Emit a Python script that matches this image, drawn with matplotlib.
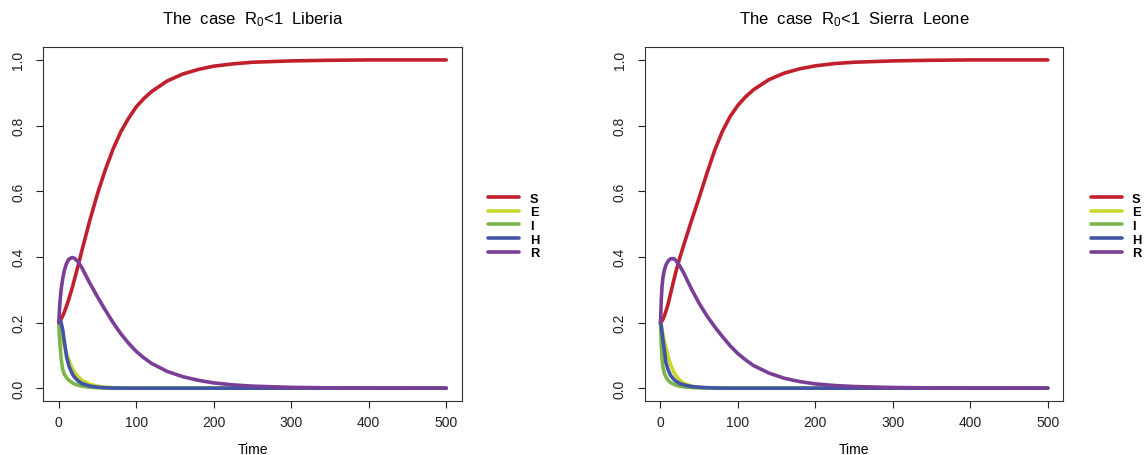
import matplotlib
matplotlib.use("Agg")
import matplotlib.pyplot as plt
from matplotlib.lines import Line2D

plt.rcParams['font.family'] = ['Liberation Sans', 'DejaVu Sans']
plt.rcParams['mathtext.default'] = 'regular'

# time grid (days)
t = [0, 1, 2, 3, 5, 7, 10, 13, 17, 20, 25, 30, 40, 50, 60, 70, 80, 90, 100,
     110, 120, 140, 160, 180, 200, 225, 250, 300, 350, 400, 450, 500]

# Liberia
S_lib = [0.200, 0.203, 0.207, 0.211, 0.220, 0.231, 0.250, 0.272, 0.303, 0.329, 0.374, 0.421,
         0.511, 0.593, 0.665, 0.728, 0.781, 0.822, 0.857, 0.883, 0.904, 0.936, 0.957, 0.971,
         0.981, 0.988, 0.993, 0.997, 0.999, 1.0, 1.0, 1.0]
E_lib = [0.200, 0.190, 0.178, 0.167, 0.147, 0.130, 0.106, 0.085, 0.063, 0.050, 0.035, 0.024,
         0.012, 0.006, 0.003, 0.0015, 0.0007, 0.0003, 0.0001] + [0.0] * 13
I_lib = [0.200, 0.150, 0.120, 0.090, 0.058, 0.043, 0.032, 0.024, 0.017, 0.013, 0.009, 0.006,
         0.003, 0.0015, 0.0007, 0.0003, 0.0001] + [0.0] * 15
H_lib = [0.200, 0.205, 0.206, 0.200, 0.178, 0.145, 0.096, 0.068, 0.046, 0.034, 0.022, 0.014,
         0.0065, 0.003, 0.0013, 0.0005, 0.0002] + [0.0] * 15
R_lib = [0.200, 0.245, 0.275, 0.300, 0.333, 0.357, 0.380, 0.393, 0.398, 0.396, 0.385, 0.366,
         0.320, 0.278, 0.238, 0.200, 0.166, 0.137, 0.112, 0.092, 0.075, 0.051, 0.035, 0.024,
         0.016, 0.010, 0.0062, 0.0024, 0.001, 0.0004, 0.0001, 0.0]

# Sierra Leone
S_sl = [0.200, 0.202, 0.205, 0.209, 0.220, 0.234, 0.258, 0.288, 0.327, 0.356, 0.398, 0.436,
        0.510, 0.581, 0.655, 0.725, 0.783, 0.828, 0.862, 0.888, 0.909, 0.940, 0.960, 0.973,
        0.982, 0.989, 0.993, 0.997, 0.999, 1.0, 1.0, 1.0]
E_sl = [0.200, 0.190, 0.178, 0.165, 0.143, 0.125, 0.095, 0.072, 0.050, 0.038, 0.024, 0.015,
        0.006, 0.0025, 0.001, 0.0004, 0.0002] + [0.0] * 15
I_sl = [0.200, 0.130, 0.090, 0.066, 0.045, 0.034, 0.024, 0.017, 0.012, 0.009, 0.006, 0.004,
        0.002, 0.001, 0.0004, 0.0002] + [0.0] * 16
H_sl = [0.200, 0.190, 0.170, 0.150, 0.115, 0.078, 0.055, 0.039, 0.0275, 0.021, 0.014, 0.010,
        0.005, 0.003, 0.0015, 0.0007, 0.0003] + [0.0] * 15
R_sl = [0.200, 0.270, 0.310, 0.335, 0.360, 0.375, 0.388, 0.394, 0.395, 0.389, 0.372, 0.351,
        0.302, 0.258, 0.220, 0.187, 0.157, 0.129, 0.105, 0.086, 0.069, 0.046, 0.030, 0.020,
        0.013, 0.008, 0.005, 0.002, 0.0008, 0.0003, 0.0001, 0.0]

labels = ['S', 'E', 'I', 'H', 'R']
colors = ['#C0202B', '#C9D82F', '#7BB64A', '#4154A6', '#7A3E96']

panels = [
    ('The  case  R$_0$<1  Liberia', [S_lib, E_lib, I_lib, H_lib, R_lib]),
    ('The  case  R$_0$<1  Sierra  Leone', [S_sl, E_sl, I_sl, H_sl, R_sl]),
]

fig = plt.figure(figsize=(11.44, 4.56), dpi=100)
W, H = 1144, 456
boxes = [(43.3, 461.7), (645.0, 1063.3)]
legend_x = [488.3, 1090.7]

for k, (title, series) in enumerate(panels):
    x0, x1 = boxes[k]
    ax = fig.add_axes([x0 / W, 1 - 402.3 / H, (x1 - x0) / W, (402.3 - 47.8) / H])
    for y, c in zip(series, colors):
        ax.plot(t, y, color=c, lw=2.6, solid_capstyle='round')
    ax.set_xlim(-20, 520)
    ax.set_ylim(-0.04, 1.04)
    ax.set_xticks([0, 100, 200, 300, 400, 500])
    ax.set_yticks([0.0, 0.2, 0.4, 0.6, 0.8, 1.0])
    ax.set_yticklabels(['0.0', '0.2', '0.4', '0.6', '0.8', '1.0'], rotation=90, va='center')
    ax.tick_params(direction='out', length=5, width=0.8, labelsize=10, colors='#222222')
    ax.tick_params(axis='y', pad=8)
    ax.tick_params(axis='x', pad=5)
    for sp in ax.spines.values():
        sp.set_linewidth(0.8)
        sp.set_color('#333333')
    ax.set_xlabel('Time', fontsize=10, labelpad=9)
    ax.set_title(title, fontsize=12, pad=17)

    handles = [Line2D([], [], color=c, lw=2.6, solid_capstyle='round') for c in colors]
    leg = ax.legend(handles, labels, loc='center left',
                    bbox_to_anchor=(legend_x[k] / W, 1 - 227.0 / H),
                    bbox_transform=fig.transFigure, frameon=False, borderpad=0,
                    borderaxespad=0, handlelength=2.4, handletextpad=0.8,
                    labelspacing=0.13, prop={'weight': 'bold', 'size': 9.3})

fig.savefig('out.png', dpi=100)
